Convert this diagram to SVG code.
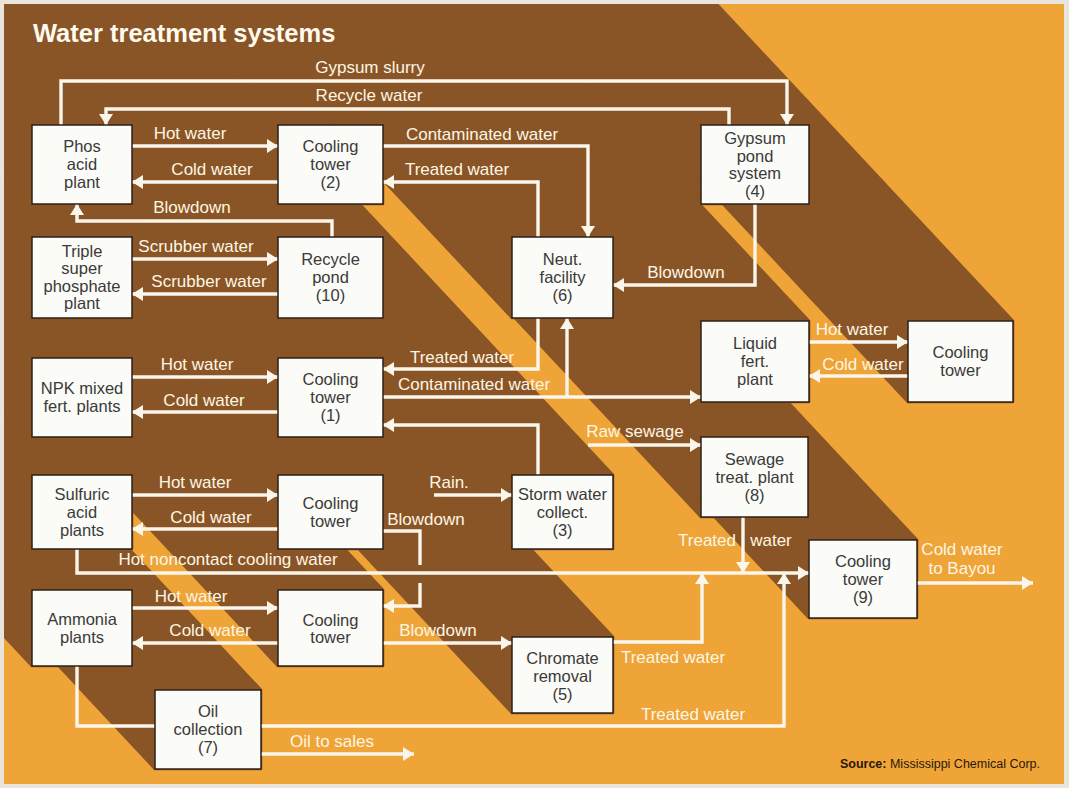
<svg xmlns="http://www.w3.org/2000/svg" width="1069" height="788" viewBox="0 0 1069 788">
  <style>
    .wire{fill:none;stroke:#fbf6ec;stroke-width:3.4}
    .lbl{font-family:"Liberation Sans",Arial,sans-serif;font-size:17px;fill:#fdf6e4;text-anchor:middle}
    .node rect{fill:#fbfbf7;stroke:#2b2118;stroke-width:1.5}
    .node text{font-family:"Liberation Sans",Arial,sans-serif;font-size:16.5px;fill:#3a3a3a;text-anchor:middle}
    .shade{fill:#8a5526;stroke:#8a5526;stroke-width:2.6;stroke-linejoin:round}
  </style>
  <defs>
    <marker id="ah" markerUnits="userSpaceOnUse" markerWidth="12" markerHeight="14" refX="11" refY="7" orient="auto" viewBox="0 0 12 14">
      <path d="M0,0 L11,7 L0,14 z" fill="#fbf6ec"/>
    </marker>
    <clipPath id="frame"><rect x="4" y="4" width="1060" height="780"/></clipPath>
  </defs>

  <!-- paper and lit background -->
  <rect width="1069" height="788" fill="#e9e4dc"/>
  <rect x="4" y="4" width="1060" height="780" fill="#efa438"/>

  <!-- shadows cast up-left by every box -->
  <g id="shadows" clip-path="url(#frame)" class="shade">
    <polygon points="132,125 132,204 32,204 -968,-866 -868,-945"/>
    <polygon points="383,125 383,204 278,204 -722,-866 -617,-945"/>
    <polygon points="809,125 809,204 701,204 -299,-866 -191,-945"/>
    <polygon points="132,237 132,318 32,318 -968,-752 -868,-833"/>
    <polygon points="383,237 383,318 278,318 -722,-752 -617,-833"/>
    <polygon points="613,237 613,318 512,318 -488,-752 -387,-833"/>
    <polygon points="809,321 809,402 701,402 -299,-668 -191,-749"/>
    <polygon points="1013,321 1013,402 908,402 -92,-668 13,-749"/>
    <polygon points="132,358 132,437 32,437 -968,-633 -868,-712"/>
    <polygon points="383,358 383,437 278,437 -722,-633 -617,-712"/>
    <polygon points="808,437 808,517 701,517 -299,-553 -192,-633"/>
    <polygon points="132,475 132,549 32,549 -968,-521 -868,-595"/>
    <polygon points="383,475 383,549 278,549 -722,-521 -617,-595"/>
    <polygon points="613,475 613,549 512,549 -488,-521 -387,-595"/>
    <polygon points="917,540 917,618 809,618 -191,-452 -83,-530"/>
    <polygon points="132,590 132,666 32,666 -968,-404 -868,-480"/>
    <polygon points="383,590 383,666 278,666 -722,-404 -617,-480"/>
    <polygon points="613,637 613,713 512,713 -488,-357 -387,-433"/>
    <polygon points="261,690 261,769 155,769 -845,-301 -739,-380"/>
  </g>

  <text x="33" y="42" font-family="Liberation Sans,Arial,sans-serif" font-size="25.5" font-weight="bold" fill="#fffaf0">Water treatment systems</text>

  <!-- flows -->
  <g id="connectors">
    <path class="wire" d="M61,125 V81 H787 V125" marker-end="url(#ah)"/>
    <path class="wire" d="M729,125 V109 H106 V125" marker-end="url(#ah)"/>
    <path class="wire" d="M132,146 H278" marker-end="url(#ah)"/>
    <path class="wire" d="M278,182 H132" marker-end="url(#ah)"/>
    <path class="wire" d="M332,237 V221 H77 V204" marker-end="url(#ah)"/>
    <path class="wire" d="M383,146 H588 V237" marker-end="url(#ah)"/>
    <path class="wire" d="M538,237 V182 H383" marker-end="url(#ah)"/>
    <path class="wire" d="M132,259 H278" marker-end="url(#ah)"/>
    <path class="wire" d="M278,294 H132" marker-end="url(#ah)"/>
    <path class="wire" d="M755,204 V285 H613" marker-end="url(#ah)"/>
    <path class="wire" d="M809,342 H908" marker-end="url(#ah)"/>
    <path class="wire" d="M908,376 H809" marker-end="url(#ah)"/>
    <path class="wire" d="M132,377 H278" marker-end="url(#ah)"/>
    <path class="wire" d="M278,412 H132" marker-end="url(#ah)"/>
    <path class="wire" d="M538,318 V369 H383" marker-end="url(#ah)"/>
    <path class="wire" d="M383,397 H701" marker-end="url(#ah)"/>
    <path class="wire" d="M567,397 V318" marker-end="url(#ah)"/>
    <path class="wire" d="M538,475 V425 H383" marker-end="url(#ah)"/>
    <path class="wire" d="M588,445 H701" marker-end="url(#ah)"/>
    <path class="wire" d="M132,495 H278" marker-end="url(#ah)"/>
    <path class="wire" d="M278,529 H132" marker-end="url(#ah)"/>
    <path class="wire" d="M434,495 H512" marker-end="url(#ah)"/>
    <path class="wire" d="M383,531 H420 V565"/>
    <path class="wire" d="M420,583 V606 H383" marker-end="url(#ah)"/>
    <path class="wire" d="M77,549 V573 H809" marker-end="url(#ah)"/>
    <path class="wire" d="M743,517 V573" marker-end="url(#ah)"/>
    <path class="wire" d="M132,608 H278" marker-end="url(#ah)"/>
    <path class="wire" d="M278,643 H132" marker-end="url(#ah)"/>
    <path class="wire" d="M383,643 H512" marker-end="url(#ah)"/>
    <path class="wire" d="M613,642 H702 V573" marker-end="url(#ah)"/>
    <path class="wire" d="M77,666 V726 H155"/>
    <path class="wire" d="M261,726 H784 V573" marker-end="url(#ah)"/>
    <path class="wire" d="M261,754 H414" marker-end="url(#ah)"/>
    <path class="wire" d="M917,583 H1033" marker-end="url(#ah)"/>
  </g>

  <!-- flow labels -->
  <g id="flow-labels" class="lbl">
    <text x="370" y="73">Gypsum slurry</text>
    <text x="369" y="101">Recycle water</text>
    <text x="190" y="139">Hot water</text>
    <text x="212" y="175">Cold water</text>
    <text x="192" y="213">Blowdown</text>
    <text x="482" y="140">Contaminated water</text>
    <text x="457" y="175">Treated water</text>
    <text x="196" y="252">Scrubber water</text>
    <text x="209" y="287">Scrubber water</text>
    <text x="686" y="278">Blowdown</text>
    <text x="852" y="335">Hot water</text>
    <text x="863" y="370">Cold water</text>
    <text x="197" y="370">Hot water</text>
    <text x="204" y="406">Cold water</text>
    <text x="462" y="363">Treated water</text>
    <text x="474" y="390">Contaminated water</text>
    <text x="635" y="437">Raw sewage</text>
    <text x="195" y="488">Hot water</text>
    <text x="211" y="523">Cold water</text>
    <text x="449" y="488">Rain.</text>
    <text x="426" y="525">Blowdown</text>
    <text x="228" y="565">Hot noncontact cooling water</text>
    <text x="707" y="546">Treated</text>
    <text x="771" y="546">water</text>
    <text x="962" y="555">Cold water</text>
    <text x="962" y="574">to Bayou</text>
    <text x="191" y="602">Hot water</text>
    <text x="210" y="636">Cold water</text>
    <text x="438" y="636">Blowdown</text>
    <text x="673" y="663">Treated water</text>
    <text x="693" y="720">Treated water</text>
    <text x="332" y="747">Oil to sales</text>
  </g>

  <!-- process units -->
  <g id="phos" class="node"><rect x="32" y="125" width="100" height="79"/>
    <text x="82" y="152">Phos</text><text x="82" y="170">acid</text><text x="82" y="188">plant</text></g>
  <g id="ct2" class="node"><rect x="278" y="125" width="105" height="79"/>
    <text x="330.5" y="152">Cooling</text><text x="330.5" y="170">tower</text><text x="330.5" y="188">(2)</text></g>
  <g id="gypsum" class="node"><rect x="701" y="125" width="108" height="79"/>
    <text x="755" y="144">Gypsum</text><text x="755" y="161.5">pond</text><text x="755" y="179">system</text><text x="755" y="196.5">(4)</text></g>
  <g id="tsp" class="node"><rect x="32" y="237" width="100" height="81"/>
    <text x="82" y="256.5">Triple</text><text x="82" y="274">super</text><text x="82" y="291.5">phosphate</text><text x="82" y="309">plant</text></g>
  <g id="pond10" class="node"><rect x="278" y="237" width="105" height="81"/>
    <text x="330.5" y="265">Recycle</text><text x="330.5" y="283">pond</text><text x="330.5" y="301">(10)</text></g>
  <g id="neut" class="node"><rect x="512" y="237" width="101" height="81"/>
    <text x="562.5" y="265">Neut.</text><text x="562.5" y="283">facility</text><text x="562.5" y="301">(6)</text></g>
  <g id="liquid" class="node"><rect x="701" y="321" width="108" height="81"/>
    <text x="755" y="349">Liquid</text><text x="755" y="367">fert.</text><text x="755" y="385">plant</text></g>
  <g id="ct-liquid" class="node"><rect x="908" y="321" width="105" height="81"/>
    <text x="960.5" y="358">Cooling</text><text x="960.5" y="376">tower</text></g>
  <g id="npk" class="node"><rect x="32" y="358" width="100" height="79"/>
    <text x="82" y="394">NPK mixed</text><text x="82" y="412">fert. plants</text></g>
  <g id="ct1" class="node"><rect x="278" y="358" width="105" height="79"/>
    <text x="330.5" y="385">Cooling</text><text x="330.5" y="403">tower</text><text x="330.5" y="421">(1)</text></g>
  <g id="sewage" class="node"><rect x="701" y="437" width="107" height="80"/>
    <text x="754.5" y="465">Sewage</text><text x="754.5" y="483">treat. plant</text><text x="754.5" y="501">(8)</text></g>
  <g id="sulfuric" class="node"><rect x="32" y="475" width="100" height="74"/>
    <text x="82" y="499.5">Sulfuric</text><text x="82" y="517.5">acid</text><text x="82" y="535.5">plants</text></g>
  <g id="ct-sulfuric" class="node"><rect x="278" y="475" width="105" height="74"/>
    <text x="330.5" y="508.5">Cooling</text><text x="330.5" y="526.5">tower</text></g>
  <g id="storm" class="node"><rect x="512" y="475" width="101" height="74"/>
    <text x="562.5" y="499.5">Storm water</text><text x="562.5" y="517.5">collect.</text><text x="562.5" y="535.5">(3)</text></g>
  <g id="ct9" class="node"><rect x="809" y="540" width="108" height="78"/>
    <text x="863" y="567">Cooling</text><text x="863" y="585">tower</text><text x="863" y="603">(9)</text></g>
  <g id="ammonia" class="node"><rect x="32" y="590" width="100" height="76"/>
    <text x="82" y="624.5">Ammonia</text><text x="82" y="642.5">plants</text></g>
  <g id="ct-ammonia" class="node"><rect x="278" y="590" width="105" height="76"/>
    <text x="330.5" y="626">Cooling</text><text x="330.5" y="643">tower</text></g>
  <g id="chromate" class="node"><rect x="512" y="637" width="101" height="76"/>
    <text x="562.5" y="663.5">Chromate</text><text x="562.5" y="681.5">removal</text><text x="562.5" y="699.5">(5)</text></g>
  <g id="oil" class="node"><rect x="155" y="690" width="106" height="79"/>
    <text x="208" y="717">Oil</text><text x="208" y="735">collection</text><text x="208" y="753">(7)</text></g>

  <text x="1040" y="768" text-anchor="end" font-family="Liberation Sans,Arial,sans-serif" font-size="12.5" fill="#2a1808"><tspan font-weight="bold">Source:</tspan> Mississippi Chemical Corp.</text>
</svg>
